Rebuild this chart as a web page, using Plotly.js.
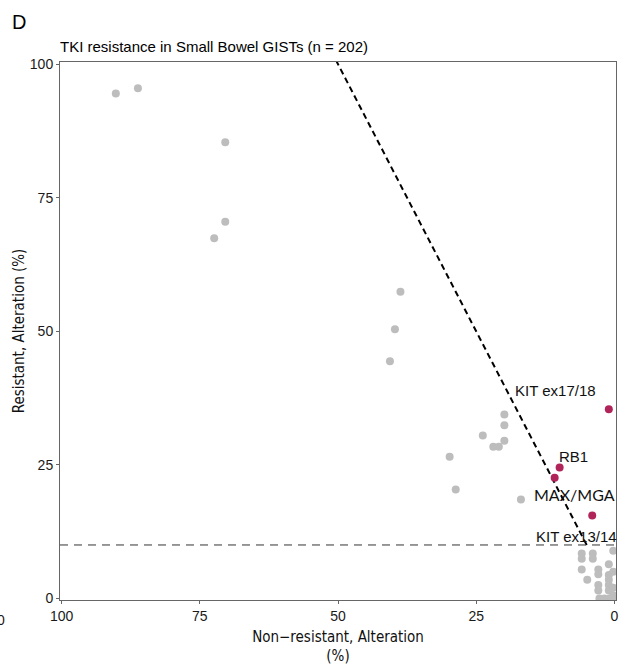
<!DOCTYPE html>
<html>
<head>
<meta charset="utf-8">
<script src="https://cdn.plot.ly/plotly-3.0.1.min.js"></script>
<style>html,body{margin:0;padding:0;background:#fff;}#chart{width:629px;height:666px;}</style>
</head>
<body>
<div id="chart"></div>
<script>
// Non-resistant alteration (%) and resistant alteration (%) per gene — other genes (gray)
const grayX = [90.2, 86.2, 70.4, 70.4, 72.4, 38.7, 39.7, 40.6, 19.9, 19.9, 23.8, 19.9, 21.9, 20.9, 29.8, 28.7, 16.9,
  5.9, 5.9, 3.9, 3.9, 5.9, 4.9, 2.9, 2.9, 2.9, 2.9, 1.0, 1.0, 1.0, 1.0, 1.0, 0.2, 0.2, 0.2, 0.2, 2.7, 1.8, 0.9, 0.0];
const grayY = [94.5, 95.5, 85.4, 70.5, 67.4, 57.4, 50.4, 44.4, 34.4, 32.4, 30.5, 29.5, 28.4, 28.4, 26.5, 20.4, 18.5,
  8.4, 7.4, 8.4, 7.4, 5.4, 3.5, 5.4, 4.5, 2.5, 1.5, 6.4, 4.4, 3.5, 2.5, 1.5, 8.9, 5.0, 2.0, 0.6, 0.0, 0.0, 0.0, 0.0];

// Highlighted resistance-associated alterations (red)
const redX = [1.0, 9.9, 10.8, 4.0];
const redY = [35.4, 24.5, 22.6, 15.5];

// Gene labels
const labelText = ["KIT ex17/18", "RB1", "MAX/MGA", "KIT ex13/14"];
const labelX = [10.7, 7.4, 7.2, 6.9];
const labelY = [39.0, 26.5, 19.5, 11.5];
const labelFonts = ["Liberation Sans, Arial, sans-serif", "Liberation Sans, Arial, sans-serif", "Lato, sans-serif", "Liberation Sans, Arial, sans-serif"];
const labelSizes = [15, 15, 16, 15];

// Reference lines: resistant threshold and resistant = 2 x non-resistant
const thresholdY = 10;
const diagSlope = 2;
const diagX = [5, 51];
const diagY = diagX.map(v => v * diagSlope);

// Axis ticks
const tickVals = [0, 25, 50, 75, 100];
const tickText = ["0", "25", "50", "75", "100"];

const sans = "Liberation Sans, Arial, sans-serif";
const narrow = "Liberation Sans Narrow, DejaVu Sans Condensed, Arial Narrow, sans-serif";

const traces = [
  {x: diagX, y: diagY, mode: "lines", type: "scatter", hoverinfo: "skip",
   line: {color: "#000", width: 2, dash: "6px,4px"}},
  {x: grayX, y: grayY, mode: "markers", type: "scatter",
   marker: {color: "#bdbdbd", size: 8}},
  {x: redX, y: redY, mode: "markers", type: "scatter",
   marker: {color: "#b0245a", size: 8}}
];

const annotations = labelText.map((t, i) => ({
  x: labelX[i], y: labelY[i], xref: "x", yref: "y", text: t, showarrow: false,
  font: {family: labelFonts[i], size: labelSizes[i], color: "#111"}, xanchor: "center", yanchor: "middle"
}));
annotations.push({x: 0, y: 1, xref: "paper", yref: "paper", text: "D", showarrow: false,
  xanchor: "left", yanchor: "middle", xshift: -50, yshift: 40,
  font: {family: sans, size: 20, color: "#000"}});
annotations.push({x: 0, y: 0, xref: "paper", yref: "paper", text: "0", showarrow: false,
  xanchor: "center", yanchor: "middle", xshift: -59, yshift: -20,
  font: {family: sans, size: 14, color: "#1a1a1a"}});

const layout = {
  width: 629, height: 666,
  margin: {l: 60, r: 13, t: 62, b: 66},
  paper_bgcolor: "#fff", plot_bgcolor: "#fff",
  showlegend: false,
  title: {text: "TKI resistance in Small Bowel GISTs (n = 202)", x: 0, xref: "paper", xanchor: "left",
          y: 1 - 47 / 666, yref: "container", yanchor: "middle",
          font: {family: sans, size: 15, color: "#000"}},
  xaxis: {range: [100.3, -0.3], tickvals: tickVals, ticktext: tickText, showgrid: false, zeroline: false,
          showline: true, linecolor: "#666", linewidth: 1, mirror: true,
          ticks: "outside", ticklen: 3, tickcolor: "#666",
          tickfont: {family: sans, size: 14, color: "#1a1a1a"},
          title: {text: "Non\u2212resistant, Alteration<br>(%)", standoff: 8,
                  font: {family: narrow, size: 15, color: "#111"}}},
  yaxis: {range: [-0.3, 100.4], tickvals: tickVals, ticktext: tickText, showgrid: false, zeroline: false,
          showline: true, linecolor: "#666", linewidth: 1, mirror: true,
          ticks: "outside", ticklen: 3, tickcolor: "#666",
          tickfont: {family: sans, size: 14, color: "#1a1a1a"},
          title: {text: "Resistant, Alteration (%)", standoff: 1,
                  font: {family: narrow, size: 15, color: "#111"}}},
  shapes: [{type: "line", xref: "paper", yref: "y", x0: 0, x1: 1, y0: thresholdY, y1: thresholdY,
            line: {color: "#333", width: 1, dash: "8px,6px"}}],
  annotations: annotations
};

Plotly.newPlot("chart", traces, layout, {displayModeBar: false, staticPlot: true});
</script>
</body>
</html>
